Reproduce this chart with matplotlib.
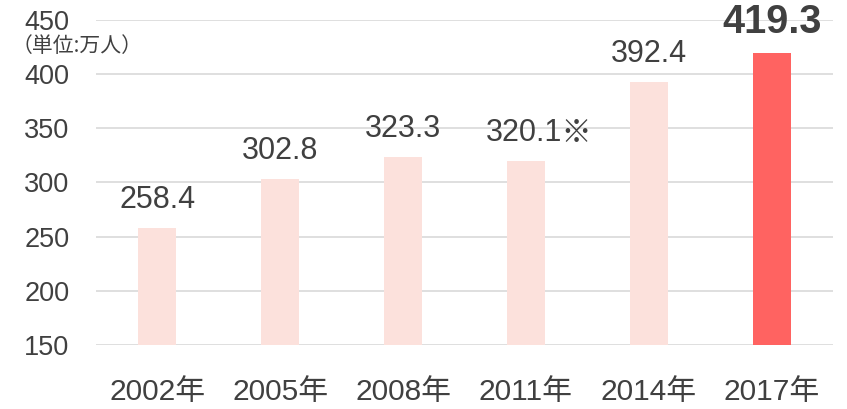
import matplotlib
matplotlib.use("Agg")
import matplotlib.pyplot as plt

plt.rcParams['font.family'] = ['Liberation Sans', 'Noto Sans CJK JP', 'DejaVu Sans']

categories = ["2002年", "2005年", "2008年", "2011年", "2014年", "2017年"]
values = [258.4, 302.8, 323.3, 320.1, 392.4, 419.3]
labels = ["258.4", "302.8", "323.3", "320.1※", "392.4", "419.3"]
yticks = [150, 200, 250, 300, 350, 400, 450]

light = "#FCE1DC"
strong = "#FF6361"
txt = "#404040"

fig = plt.figure(figsize=(8.47, 4.09), dpi=100)
ax = fig.add_axes([96/847, 1 - 345/409, (833-96)/847, (345-20)/409])

x = list(range(len(categories)))
colors = [light]*5 + [strong]
ax.bar(x, [v - 150 for v in values], bottom=150, width=0.31, color=colors, zorder=2)
ax.set_xlim(-0.5, len(categories) - 0.5)
ax.set_ylim(150, 450)
ax.set_yticks(yticks)
ax.set_yticklabels([str(t) for t in yticks])
ax.yaxis.grid(True, color="#D9D9D9", linewidth=1.2, zorder=0)
ax.set_axisbelow(True)
for s in ax.spines.values():
    s.set_visible(False)
ax.tick_params(axis='y', length=0, pad=19, labelsize=19.5, labelcolor=txt)
ax.set_xticks(x)
ax.set_xticklabels(categories)
ax.tick_params(axis='x', length=0, pad=24, labelsize=21.5, labelcolor=txt)

for i, (v, lab) in enumerate(zip(values, labels)):
    if i == len(values) - 1:
        ax.text(i, v + 11, lab, ha='center', va='bottom', fontsize=28.5,
                fontweight='bold', color=txt)
    elif lab.endswith("※"):
        ax.text(i - 0.33, v + 12, lab, ha='left', va='bottom', fontsize=22, color=txt)
    else:
        ax.text(i, v + 12, lab, ha='center', va='bottom', fontsize=22, color=txt)

fig.text(12/847, 1 - 46/409, "（単位:万人）", ha='left', va='center', fontsize=15,
         color=txt, family=['Noto Sans CJK JP'])

fig.savefig("out.png", dpi=100)
